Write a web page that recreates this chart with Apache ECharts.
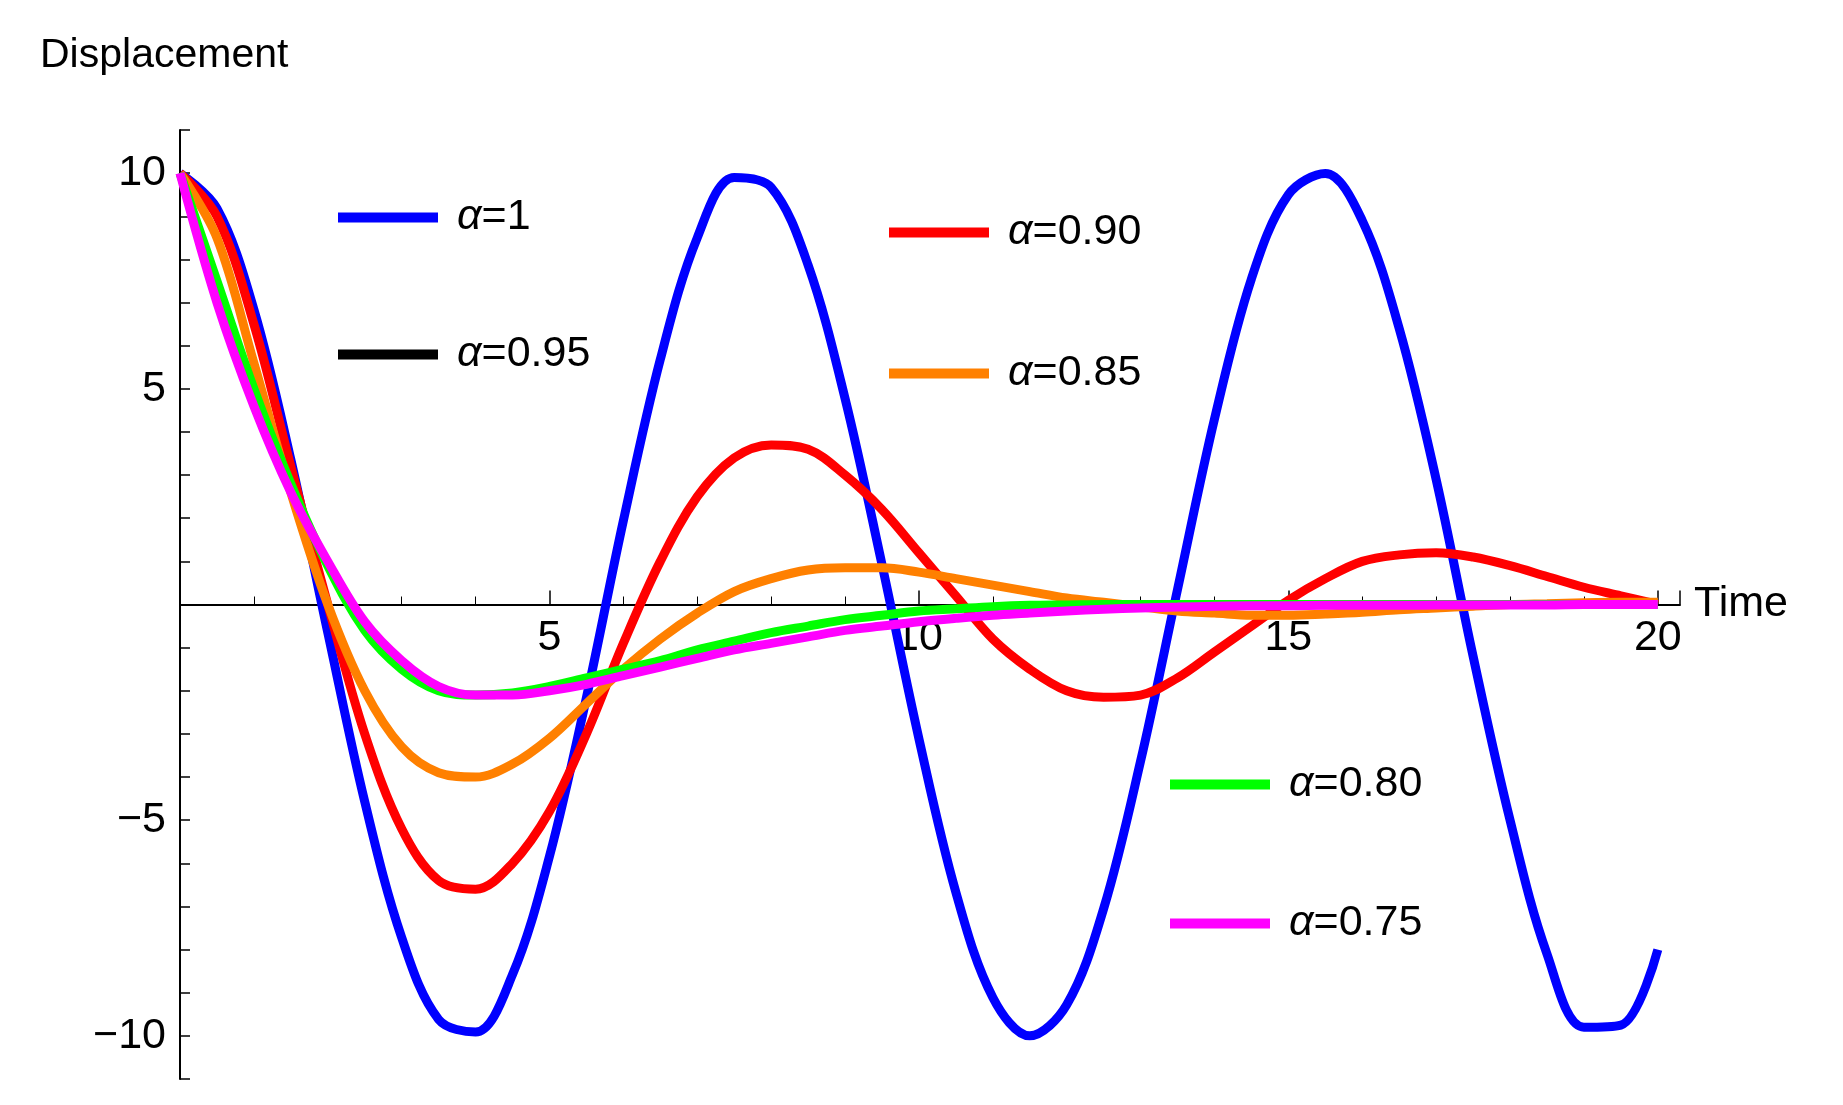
<!DOCTYPE html>
<html><head><meta charset="utf-8">
<script src="https://cdn.jsdelivr.net/npm/echarts@6/dist/echarts.min.js"></script>
<style>html,body{margin:0;background:#fff}#c{width:1843px;height:1105px}</style>
</head><body><div id="c"></div>
<script>
const times = Array.from({length:41},(_,i)=>i*0.5);
const names = ['α=1','α=0.95','α=0.90','α=0.85','α=0.80','α=0.75'];
const colors = ['#0000ff','#000000','#ff0000','#ff8000','#00ff00','#ff00ff'];
const blue = [10,9.18,6.84,3.36,-0.65,-4.57,-7.72,-9.62,-9.91,-8.58,-5.84,-2.16,1.94,5.68,8.5,9.9,9.67,7.87,4.78,0.93,-3.11,-6.67,-9.11,-10,-9.28,-7.05,-3.63,0.35,4.3,7.55,9.5,9.99,8.9,6.4,2.9,-1.2,-5,-8.1,-9.8,-9.75,-8];
const black = [];
const red = [10,9,6.5,3.2,0,-3,-5.2,-6.4,-6.6,-6,-4.8,-3,-0.9,1,2.5,3.4,3.7,3.6,3,2.2,1.2,0.2,-0.8,-1.5,-2,-2.15,-2.1,-1.7,-1.1,-0.5,0.1,0.6,1,1.15,1.2,1.1,0.9,0.65,0.4,0.2,0];
const orange = [10,8.5,5.6,2.6,0,-2,-3.3,-3.9,-4,-3.7,-3.1,-2.3,-1.5,-0.8,-0.2,0.3,0.6,0.8,0.85,0.85,0.75,0.6,0.45,0.3,0.15,0.05,-0.05,-0.15,-0.2,-0.25,-0.25,-0.22,-0.18,-0.12,-0.08,-0.04,0,0.02,0.04,0.05,0.05];
const green = [10,7.5,5,2.8,0.9,-0.6,-1.5,-2,-2.1,-2.05,-1.9,-1.7,-1.5,-1.3,-1.05,-0.85,-0.65,-0.5,-0.35,-0.25,-0.15,-0.1,-0.05,-0.02,-0.01,0,0,0,0,0,0,0,0,0,0,0,0,0,0,0,0];
const magenta = [10,7,4.6,2.6,1,-0.4,-1.3,-1.9,-2.1,-2.1,-2,-1.85,-1.65,-1.45,-1.25,-1.05,-0.9,-0.75,-0.6,-0.5,-0.4,-0.32,-0.25,-0.2,-0.15,-0.11,-0.08,-0.06,-0.04,-0.03,-0.03,-0.02,-0.02,-0.02,-0.01,-0.01,-0.01,-0.01,0,0,0];
const values = [blue,black,red,orange,green,magenta];
const legendPos = [[333,191],[333,328],[884,206],[884,347],[1165,758],[1165,897]];
const font = 'Liberation Sans, Arial, sans-serif';
const fs = 43;
const chart = echarts.init(document.getElementById('c'));
chart.setOption({
  animation:false,
  textStyle:{fontFamily:font},
  grid:{left:180,right:163,top:130,bottom:26},
  title:{text:'Displacement',left:35,top:30,textStyle:{fontSize:41,fontWeight:'normal',color:'#000',fontFamily:font}},
  legend: names.map((n,i)=>({data:[n],left:legendPos[i][0],top:legendPos[i][1],icon:'rect',itemWidth:100,itemHeight:10,itemGap:0,
    formatter:s=>'{i|α}'+s.slice(1),
    textStyle:{fontSize:fs,color:'#000',padding:[0,0,0,14],rich:{i:{fontStyle:'italic',fontSize:fs,fontFamily:font}}}})),
  xAxis:{type:'value',min:0,max:20.3,interval:5,position:'bottom',offset:-474.5,
    name:'Time',nameGap:14,nameTextStyle:{fontSize:fs,color:'#000',verticalAlign:'middle'},
    axisLine:{onZero:false,lineStyle:{color:'#000',width:2}},axisTick:{inside:true,length:14,lineStyle:{color:'#000',width:1.5}},
    minorTick:{show:true,splitNumber:5,length:8,lineStyle:{color:'#000'}},splitLine:{show:false},
    axisLabel:{fontSize:fs,color:'#000',margin:12,formatter:v=>(v===0||v%5)?'':String(v)}},
  yAxis:{type:'value',min:-11,max:11,interval:1,
    axisLine:{onZero:true,lineStyle:{color:'#000',width:2}},axisTick:{inside:true,length:10,lineStyle:{color:'#000',width:1.5}},
    splitLine:{show:false},
    axisLabel:{fontSize:fs,color:'#000',margin:14,formatter:v=>(v===0||v%5)?'':String(v).replace('-','−')}},
  series: names.map((n,i)=>({name:n,type:'line',smooth:0.35,showSymbol:false,color:colors[i],
    lineStyle:{width:9,color:colors[i]},data:values[i].map((v,j)=>[times[j],v])}))
});
</script></body></html>
